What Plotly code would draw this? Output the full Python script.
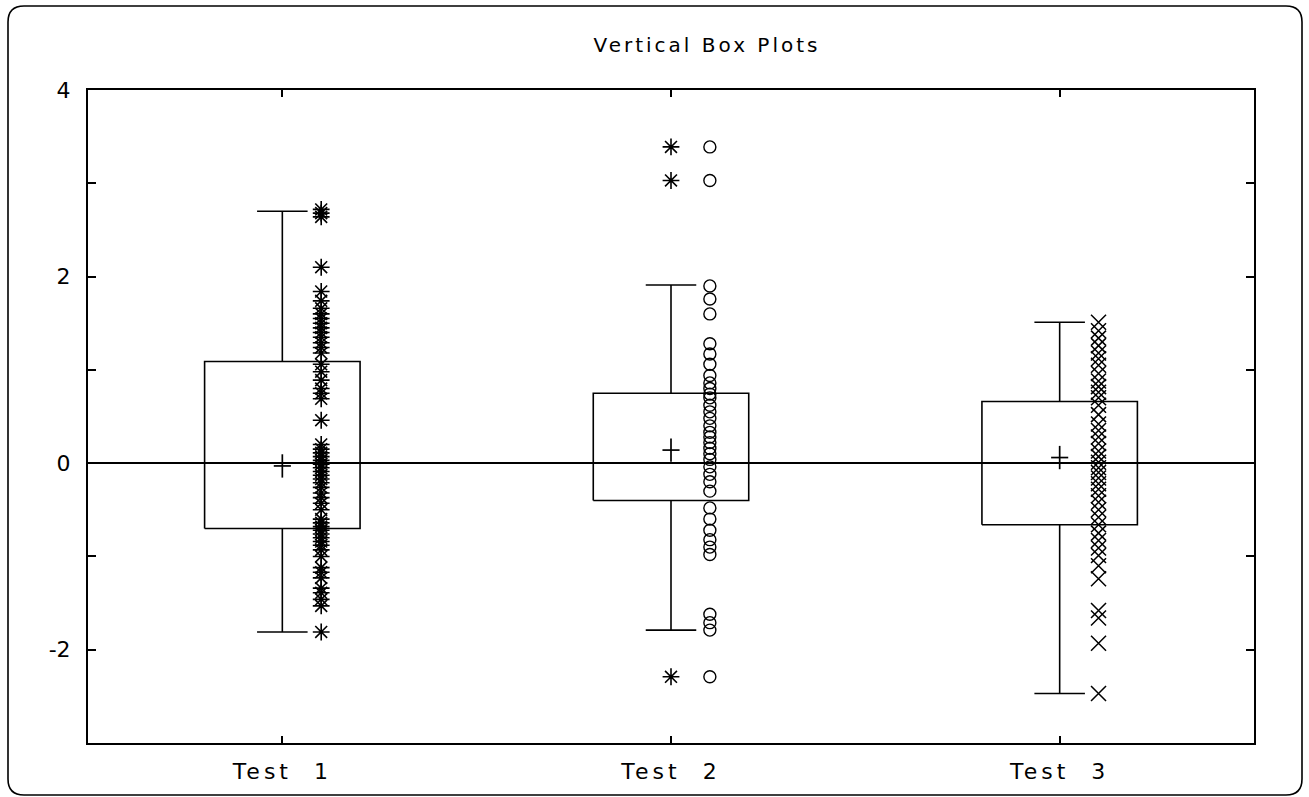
import plotly.graph_objects as go

# Categories and their positions on the x axis
categories = ["Test 1", "Test 2", "Test 3"]
positions = [1, 2, 3]

# Box summary statistics per test
q1 = [-0.70, -0.40, -0.66]
q3 = [1.09, 0.75, 0.66]
whisker_low = [-1.81, -1.79, -2.47]
whisker_high = [2.70, 1.91, 1.51]
means = [-0.03, 0.14, 0.06]

# Raw observations per test
test1 = [2.72, 2.68, 2.64, 2.10, 1.84, 1.74, 1.66, 1.60, 1.55, 1.50, 1.45, 1.40,
         1.35, 1.29, 1.24, 1.18, 1.06, 0.98, 0.89, 0.80, 0.75, 0.69, 0.46,
         0.20, 0.15, 0.11, 0.07, 0.03, -0.01, -0.05, -0.09, -0.13, -0.17, -0.21,
         -0.26, -0.32, -0.37, -0.43, -0.50, -0.60, -0.64, -0.68, -0.72, -0.76,
         -0.80, -0.84, -0.88, -0.93, -1.00, -1.12, -1.17, -1.23, -1.34, -1.39,
         -1.46, -1.53, -1.81]
test2 = [3.39, 3.03, 1.90, 1.76, 1.60, 1.28, 1.17, 1.06, 0.94, 0.86, 0.80, 0.74,
         0.70, 0.62, 0.55, 0.48, 0.40, 0.33, 0.28, 0.22, 0.16, 0.10, 0.04,
         -0.04, -0.12, -0.20, -0.30, -0.48, -0.60, -0.72, -0.82, -0.90, -0.98,
         -1.62, -1.71, -1.79, -2.29]
test3 = [1.51, 1.42, 1.34, 1.26, 1.18, 1.12, 1.05, 0.96, 0.88, 0.82, 0.76, 0.70,
         0.62, 0.52, 0.42, 0.35, 0.28, 0.21, 0.13, 0.07, 0.01, -0.05, -0.10,
         -0.16, -0.22, -0.28, -0.35, -0.42, -0.50, -0.58, -0.66, -0.75, -0.83,
         -0.91, -0.99, -1.10, -1.24, -1.58, -1.66, -1.93, -2.47]
outliers_test2 = [3.39, 3.03, -2.29]

# Y tick labels
y_tickvals = [4, 3, 2, 1, 0, -1, -2, -3]
y_ticktext = ["4", "", "2", "", "0", "", "-2", ""]

FONT = "DejaVu Sans"
INK = "black"
BOX_HALF = 0.2
CAP_HALF = 0.065
POINT_OFFSET = 0.1

fig = go.Figure()

# Boxes, whiskers and caps
for c, lo, a, b, hi in zip(positions, whisker_low, q1, q3, whisker_high):
    xs = [c - BOX_HALF, c + BOX_HALF, c + BOX_HALF, c - BOX_HALF, c - BOX_HALF, None,
          c, c, None, c, c, None,
          c - CAP_HALF, c + CAP_HALF, None, c - CAP_HALF, c + CAP_HALF]
    ys = [a, a, b, b, a, None,
          b, hi, None, a, lo, None,
          hi, hi, None, lo, lo]
    fig.add_trace(go.Scatter(x=xs, y=ys, mode="lines",
                             line=dict(color=INK, width=1.6),
                             hoverinfo="skip", showlegend=False))

# Mean markers drawn as thin crosses
fig.add_trace(go.Scatter(
    x=positions, y=means, mode="markers",
    marker=dict(size=1, color="rgba(0,0,0,0)"),
    error_x=dict(type="constant", value=0.022, width=0, thickness=1.7, color=INK),
    error_y=dict(type="constant", value=0.125, width=0, thickness=1.7, color=INK),
    showlegend=False, hoverinfo="skip"))

# Observations beside each box
fig.add_trace(go.Scatter(
    x=[positions[0] + POINT_OFFSET] * len(test1), y=test1, mode="markers",
    marker=dict(symbol="asterisk-open", size=14, color=INK,
                line=dict(color=INK, width=1.6)),
    showlegend=False))
fig.add_trace(go.Scatter(
    x=[positions[1] + POINT_OFFSET] * len(test2), y=test2, mode="markers",
    marker=dict(symbol="circle-open", size=12, color=INK,
                line=dict(color=INK, width=1.4)),
    showlegend=False))
fig.add_trace(go.Scatter(
    x=[positions[2] + POINT_OFFSET] * len(test3), y=test3, mode="markers",
    marker=dict(symbol="x-thin-open", size=15, color=INK,
                line=dict(color=INK, width=1.5)),
    showlegend=False))

# Outliers of Test 2 at the box centre
fig.add_trace(go.Scatter(
    x=[positions[1]] * len(outliers_test2), y=outliers_test2, mode="markers",
    marker=dict(symbol="asterisk-open", size=14, color=INK,
                line=dict(color=INK, width=1.6)),
    showlegend=False))

# Rounded outer frame (pixel geometry converted to paper units)
W, H = 1309, 797
L, R, T, B = 88, 55, 90, 54
pw, ph = W - L - R, H - T - B


def px(xp):
    return (xp - L) / pw


def py(yp):
    return (H - B - yp) / ph


x0, x1, y0, y1, rad = 8, 1302, 6, 795, 16
frame = (f"M {px(x0 + rad)},{py(y0)} L {px(x1 - rad)},{py(y0)} "
         f"Q {px(x1)},{py(y0)} {px(x1)},{py(y0 + rad)} "
         f"L {px(x1)},{py(y1 - rad)} Q {px(x1)},{py(y1)} {px(x1 - rad)},{py(y1)} "
         f"L {px(x0 + rad)},{py(y1)} Q {px(x0)},{py(y1)} {px(x0)},{py(y1 - rad)} "
         f"L {px(x0)},{py(y0 + rad)} Q {px(x0)},{py(y0)} {px(x0 + rad)},{py(y0)} Z")

fig.update_layout(
    width=W, height=H,
    margin=dict(l=L, r=R, t=T, b=B),
    paper_bgcolor="white", plot_bgcolor="white",
    font=dict(family=FONT, color=INK, size=20),
    title=dict(text='<span style="letter-spacing:3px">Vertical Box Plots</span>',
               x=707 / W, xanchor="center", y=1 - 45 / H, yanchor="middle",
               font=dict(family=FONT, size=20, color=INK)),
    shapes=[dict(type="path", path=frame, xref="paper", yref="paper",
                 line=dict(color=INK, width=1.6), layer="above")],
    xaxis=dict(range=[0.5, 3.5], tickvals=positions,
               ticktext=[f'<span style="letter-spacing:4px">{c.replace(" ", "  ")}</span>'
                         for c in categories],
               showgrid=False, zeroline=False, showline=True, linecolor=INK,
               linewidth=2, mirror="allticks", ticks="inside", ticklen=7,
               tickwidth=1.5, tickcolor=INK, ticklabelstandoff=8,
               tickfont=dict(family=FONT, size=22, color=INK)),
    yaxis=dict(range=[-3, 4], tickvals=y_tickvals, ticktext=y_ticktext,
               showgrid=False, zeroline=True, zerolinecolor=INK, zerolinewidth=1.6,
               showline=True, linecolor=INK, linewidth=2, mirror="allticks",
               ticks="inside", ticklen=8, tickwidth=1.5, tickcolor=INK,
               ticklabelstandoff=11,
               tickfont=dict(family=FONT, size=22, color=INK)),
)

fig.write_html("out.html")
